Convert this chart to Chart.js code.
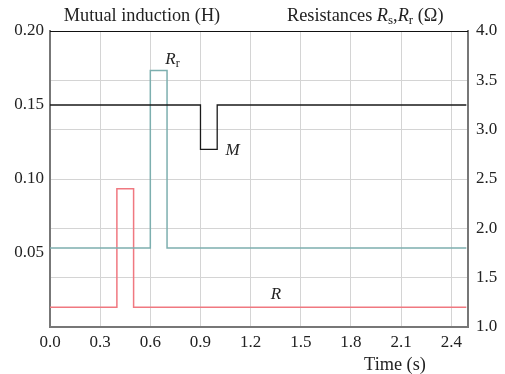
<!DOCTYPE html>
<html>
<head>
<meta charset="utf-8">
<script src="https://cdn.jsdelivr.net/npm/chart.js@4"></script>
<style>
  html, body { margin: 0; padding: 0; background: #fff; }
  #wrap { width: 505px; height: 374px; }
</style>
</head>
<body>
<div id="wrap"><canvas id="chart"></canvas></div>
<script>
// time ticks (s) and axis ticks
const timeTicks = [0.0, 0.3, 0.6, 0.9, 1.2, 1.5, 1.8, 2.1, 2.4];
const mutualTicks = [0.05, 0.10, 0.15, 0.20];
const resistTicks = [1.0, 1.5, 2.0, 2.5, 3.0, 3.5, 4.0];

// step series: value holds from each time until the next one
const mTimes = [0.0, 0.9, 1.0, 2.49];
const mValues = [0.15, 0.12, 0.15, 0.15];      // mutual induction (H)

const rrTimes = [0.0, 0.6, 0.7, 2.49];
const rrValues = [1.8, 3.6, 1.8, 1.8];          // rotor resistance (Ohm)

const rsTimes = [0.0, 0.4, 0.5, 2.49];
const rsValues = [1.2, 2.4, 1.2, 1.2];          // stator resistance (Ohm)

const serif = '"Liberation Serif", "DejaVu Serif", serif';
const fontSize = 17;
const titleSize = 18.3;

function toPoints(times, values) {
    return times.map((t, i) => ({ x: t, y: values[i] }));
}

// axis titles and the italic series names
const textPlugin = {
    id: 'texts',
    afterDraw(chart) {
        const ctx = chart.ctx;
        const x = chart.scales.x, yr = chart.scales.yR, yl = chart.scales.yL;
        ctx.save();
        ctx.fillStyle = '#222';
        ctx.textBaseline = 'alphabetic';
        ctx.font = titleSize + 'px ' + serif;
        ctx.textAlign = 'center';
        ctx.fillText('Mutual induction (H)', 142, 21);
        ctx.fillText('Time (s)', 395, 370);

        // Resistances R_s,R_r (Ω)
        let px = 287;
        const draw = (txt, italic, size, dy) => {
            ctx.font = (italic ? 'italic ' : '') + size + 'px ' + serif;
            ctx.textAlign = 'left';
            ctx.fillText(txt, px, 21 + dy);
            px += ctx.measureText(txt).width;
        };
        draw('Resistances ', false, titleSize, 0);
        draw('R', true, titleSize, 0);
        draw('s', false, 13, 3);
        draw(',', false, titleSize, 0);
        draw('R', true, titleSize, 0);
        draw('r', false, 13, 3);
        draw(' (\u03A9)', false, titleSize, 0);

        // series labels
        ctx.textAlign = 'left';
        ctx.font = 'italic ' + fontSize + 'px ' + serif;
        let lx = x.getPixelForValue(0.69), ly = yr.getPixelForValue(3.67);
        ctx.fillText('R', lx, ly);
        let w = ctx.measureText('R').width;
        ctx.font = '12px ' + serif;
        ctx.fillText('r', lx + w, ly + 3);

        ctx.font = 'italic ' + fontSize + 'px ' + serif;
        ctx.fillText('M', x.getPixelForValue(1.05), yl.getPixelForValue(0.1165));
        ctx.fillText('R', x.getPixelForValue(1.32), yr.getPixelForValue(1.28));
        ctx.restore();
    }
};

// thin black top border of the plot frame
const frameTop = {
    id: 'frameTop',
    afterDatasetsDraw(chart) {
        const a = chart.chartArea, ctx = chart.ctx;
        ctx.save();
        ctx.strokeStyle = '#111';
        ctx.lineWidth = 1;
        ctx.beginPath();
        ctx.moveTo(a.left, a.top + 0.5);
        ctx.lineTo(a.right, a.top + 0.5);
        ctx.stroke();
        ctx.restore();
    }
};

new Chart(document.getElementById('chart'), {
    type: 'line',
    data: {
        datasets: [
            {
                label: 'M',
                data: toPoints(mTimes, mValues),
                yAxisID: 'yL',
                borderColor: '#1a1a1a',
                borderWidth: 1.3,
                stepped: 'before',
                pointRadius: 0,
                fill: false
            },
            {
                label: 'Rr',
                data: toPoints(rrTimes, rrValues),
                yAxisID: 'yR',
                borderColor: 'rgb(125,175,175)',
                borderWidth: 1.5,
                stepped: 'before',
                pointRadius: 0,
                fill: false
            },
            {
                label: 'R',
                data: toPoints(rsTimes, rsValues),
                yAxisID: 'yR',
                borderColor: 'rgb(240,120,128)',
                borderWidth: 1.5,
                stepped: 'before',
                pointRadius: 0,
                fill: false
            }
        ]
    },
    options: {
        responsive: true,
        maintainAspectRatio: false,
        animation: false,
        layout: { padding: { top: 31, left: 0, right: 0, bottom: 0 } },
        plugins: {
            legend: { display: false },
            tooltip: { enabled: false }
        },
        scales: {
            x: {
                type: 'linear',
                min: 0,
                max: 2.5,
                afterBuildTicks: s => { s.ticks = timeTicks.map(v => ({ value: v })); },
                afterFit: s => { s.height = 47; },
                ticks: {
                    callback: v => v.toFixed(1),
                    color: '#222',
                    font: { family: serif, size: fontSize },
                    padding: 5,
                    maxRotation: 0
                },
                grid: { color: '#d4d4d4', lineWidth: 1, drawTicks: false },
                border: { color: '#777', width: 2 }
            },
            yL: {
                position: 'left',
                min: 0,
                max: 0.2,
                afterBuildTicks: s => { s.ticks = mutualTicks.map(v => ({ value: v })); },
                afterFit: s => { s.width = 50; },
                ticks: {
                    callback: v => v.toFixed(2),
                    color: '#222',
                    font: { family: serif, size: fontSize },
                    padding: 6
                },
                grid: { display: false, drawTicks: false },
                border: { color: '#777', width: 2 }
            },
            yR: {
                position: 'right',
                min: 1,
                max: 4,
                afterBuildTicks: s => { s.ticks = resistTicks.map(v => ({ value: v })); },
                afterFit: s => { s.width = 37; },
                ticks: {
                    callback: v => v.toFixed(1),
                    color: '#222',
                    font: { family: serif, size: fontSize },
                    padding: 8
                },
                grid: { color: '#d4d4d4', lineWidth: 1, drawTicks: false },
                border: { color: '#777', width: 2 }
            }
        }
    },
    plugins: [textPlugin, frameTop]
});
</script>
</body>
</html>
